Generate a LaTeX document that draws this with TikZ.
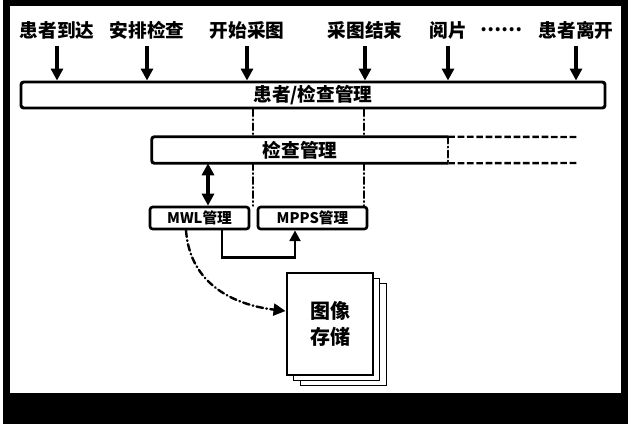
\documentclass[tikz,border=0pt]{standalone}
\usepackage{fontspec}
\newfontfamily\cjk{Noto Sans CJK SC}
\usetikzlibrary{arrows.meta,calc,shadows}

\tikzset{
  lbl/.style={font=\cjk\bfseries\fontsize{14}{14}\selectfont, inner sep=1pt},
  mgr/.style={draw, line width=2.2pt, rounded corners=2pt, fill=white, inner sep=0pt,
              font=\cjk\bfseries\fontsize{14}{14}\selectfont},
  sub/.style={mgr, line width=2pt, font=\cjk\bfseries\fontsize{11}{11}\selectfont},
  evt/.style={line width=2.5pt, -{Triangle[width=9pt,length=9pt]}},
  link/.style={line width=2pt, -{Triangle[width=8pt,length=8pt]}},
  dd/.style={line width=1.8pt, line cap=round, dash pattern=on 5pt off 2.5pt on 0.5pt off 2.5pt},
  ext/.style={line width=1.8pt, dash pattern=on 5pt off 2pt},
}

\begin{document}
\begin{tikzpicture}[x=0.75pt,y=-0.75pt]
    \useasboundingbox (0,0) rectangle (630,426);
    % frame of the scan
    \fill[black] (3,0) rectangle (628,424);
    \fill[white] (10,6) rectangle (621,393);

    % events along the exam
    \node[lbl] (arrive) at (57,30) {患者到达};
    \node[lbl] (plan) at (147,30) {安排检查};
    \node[lbl] (acqstart) at (247,30) {开始采图};
    \node[lbl] (acqend) at (365,30) {采图结束};
    \node[lbl] (read) at (448,30) {阅片};
    \node[lbl] (more) at (501,30) {……};
    \node[lbl] (leave) at (576,30) {患者离开};

    \node[mgr, minimum width=438pt, minimum height=19.5pt] (pm) at (313,95) {患者/检查管理};
    \foreach \e in {arrive,plan,acqstart,acqend,read,leave}
        \draw[evt] ([yshift=-4pt]\e.south) -- (\e.south |- pm.north);

    % exam management, open to the right
    \node[minimum width=222pt, minimum height=19.5pt, inner sep=0pt,
          font=\cjk\bfseries\fontsize{14}{14}\selectfont] (cm) at (300,150) {检查管理};
    \draw[line width=2.2pt, rounded corners=2pt] (cm.north east) -- (cm.north west)
        -- (cm.south west) -- (cm.south east);
    \draw[dd] (cm.north east) -- (cm.south east);
    \coordinate (cmtop) at (578,137);
    \coordinate (cmbot) at (578,163);
    \draw[ext] (cm.north east) -- (cmtop);
    \draw[ext] (cm.south east) -- (cmbot);

    \node[sub, minimum width=74.25pt, minimum height=16.5pt] (mwl) at (199.5,218) {MWL管理};
    \node[sub, minimum width=81.75pt, minimum height=16.5pt] (mpps) at (312.5,218) {MPPS管理};

    \node[draw, line width=2.2pt, fill=white, minimum width=64.5pt, minimum height=76.5pt,
          align=center, font=\cjk\bfseries\fontsize{15}{20}\selectfont,
          double copy shadow={shadow xshift=5pt, shadow yshift=-4pt, line width=1.2pt}]
          (store) at (330,324) {图像\\存储};

    % links between the parts
    \coordinate (da) at (253,0);
    \coordinate (db) at (364,0);
    \draw[dd] (pm.south -| da) -- (cm.north -| da);
    \draw[dd] (pm.south -| db) -- (cm.north -| db);
    \draw[dd] (cm.south -| da) -- (mwl.north -| da);
    \draw[dd] (cm.south -| db) -- (mpps.north -| db);
    \draw[line width=2.5pt, {Triangle[width=9pt,length=9pt]}-{Triangle[width=9pt,length=9pt]}]
        ($(cm.south)+(-92,0)$) -- ($(mwl.north)+(8.5,0)$);
    \draw[link] ($(mwl.south)+(22.5,0)$) -- ++(0,27) -| ($(mpps.south)+(-17.5,0)$);
    \draw[dd, -{Triangle[width=9pt,length=9pt]}] ($(mwl.south)+(-13.5,0)$)
        .. controls (190,285) and (235,305) .. ($(store.west)+(0,-13)$);
\end{tikzpicture}
\end{document}
